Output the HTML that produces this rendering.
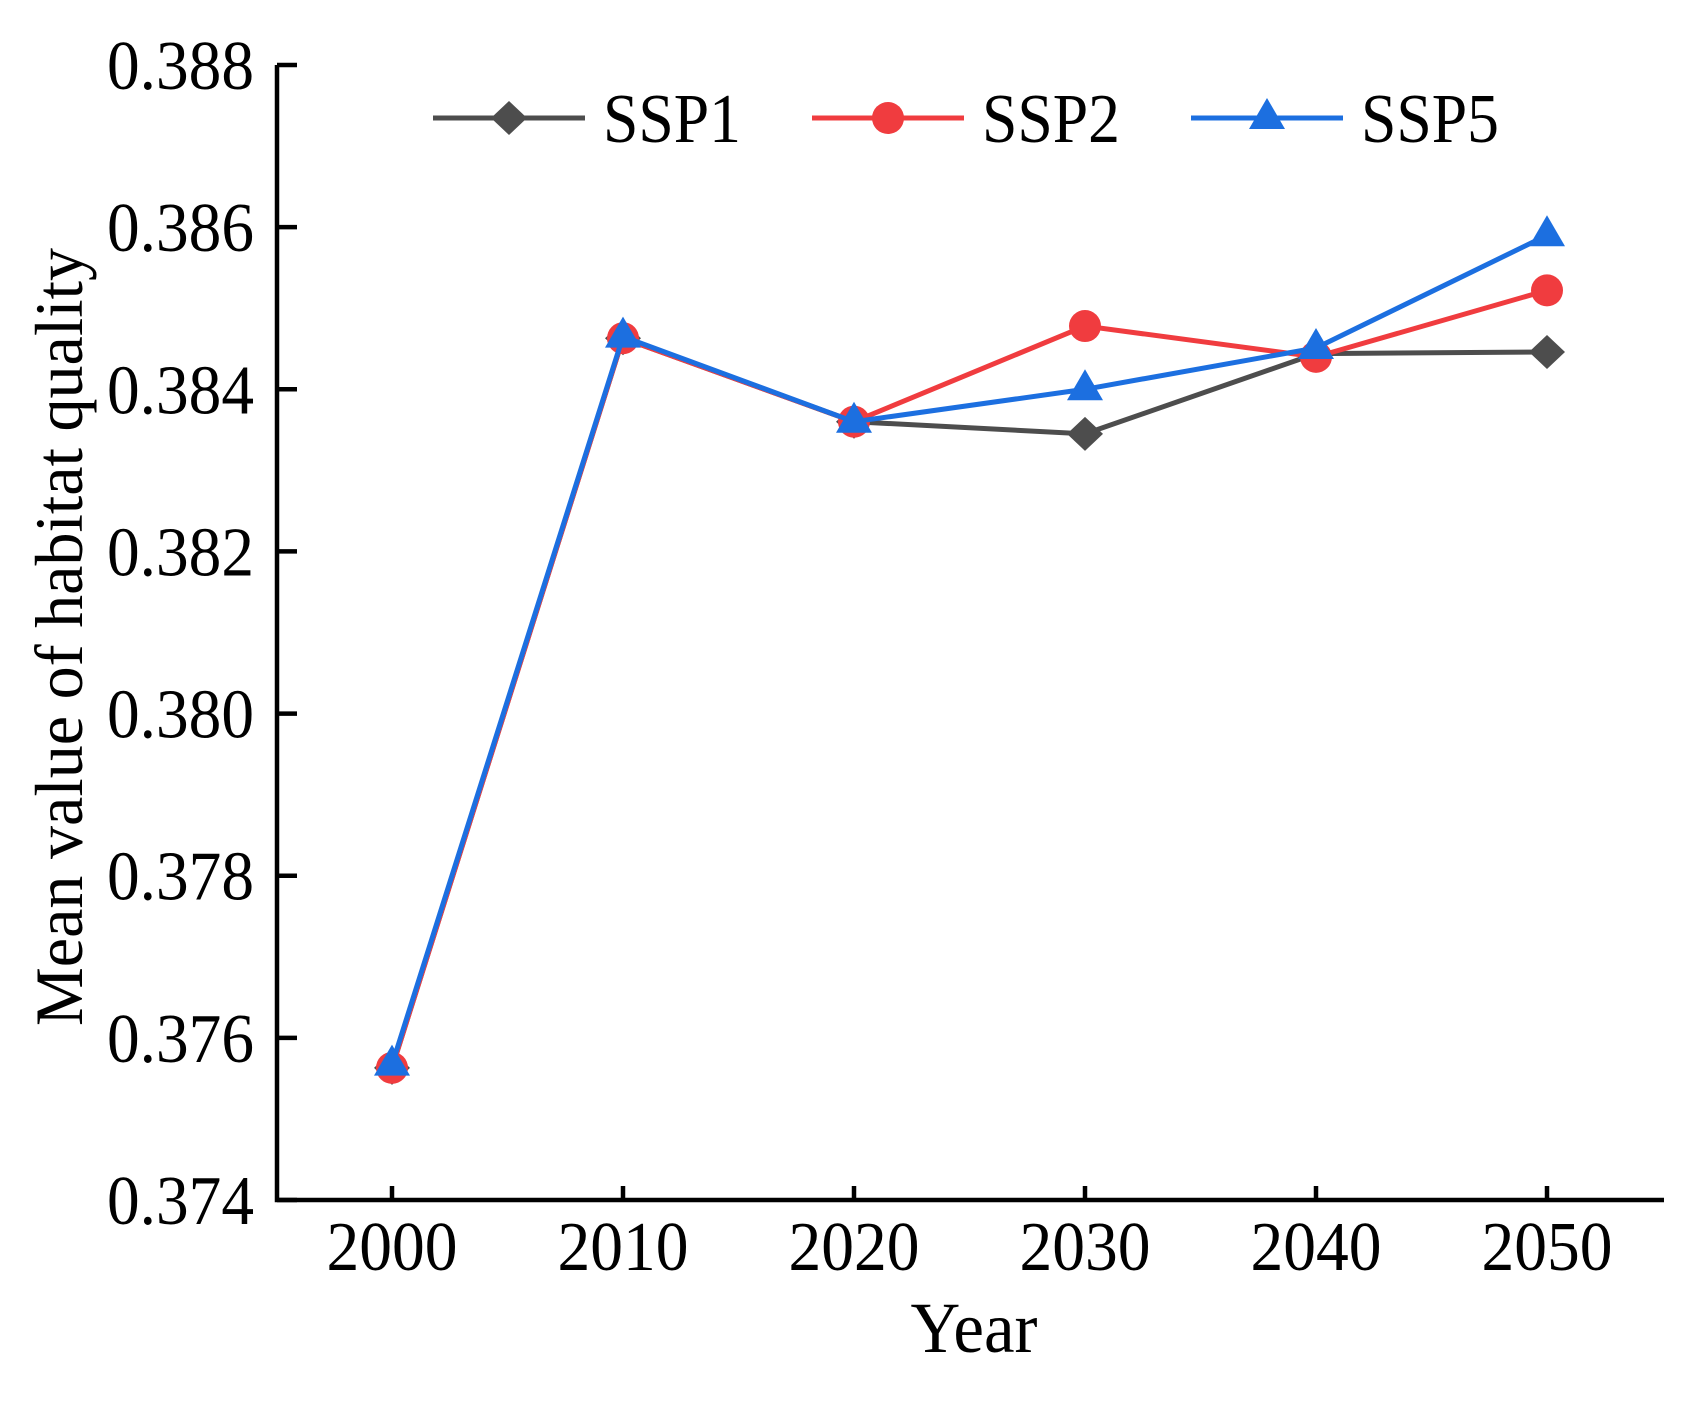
<!DOCTYPE html>
<html><head><meta charset="utf-8"><style>
html,body{margin:0;padding:0;background:#fff;}
svg text{font-family:"Liberation Serif",serif;fill:#000;}
</style></head><body>
<svg id="chart" width="1698" height="1401" viewBox="0 0 1698 1401" xmlns="http://www.w3.org/2000/svg">
<g id="axes"></g>
<g id="series"></g>
<g id="legend"></g>
<text x="974" y="1352" font-size="72" text-anchor="middle" textLength="127" lengthAdjust="spacingAndGlyphs">Year</text>
<text transform="translate(82,637) rotate(-90)" font-size="68" text-anchor="middle" textLength="778" lengthAdjust="spacingAndGlyphs">Mean value of habitat quality</text>
</svg>
<script>
const years = [2000, 2010, 2020, 2030, 2040, 2050];
const yTicks = [0.374, 0.376, 0.378, 0.380, 0.382, 0.384, 0.386, 0.388];
const ssp1 = [0.37563, 0.38463, 0.38360, 0.38345, 0.38444, 0.38446];
const ssp2 = [0.37563, 0.38463, 0.38360, 0.38478, 0.38440, 0.38522];
const ssp5 = [0.37567, 0.38465, 0.38360, 0.38400, 0.38451, 0.38590];
const seriesNames = ["SSP1", "SSP2", "SSP5"];

const NS = "http://www.w3.org/2000/svg";
const X0 = 277, X1 = 1664, Y0 = 1200, Y1 = 65;
function xs(yr){ return 392 + (yr - 2000) / 10 * 231; }
function ys(v){ return Y0 - (v - 0.374) / (0.388 - 0.374) * (Y0 - Y1); }
function mk(tag, attrs, parent){ const e = document.createElementNS(NS, tag); for (const k in attrs) e.setAttribute(k, attrs[k]); parent.appendChild(e); return e; }

const axes = document.getElementById('axes');
let a = mk('path', {d:`M${X0},${Y1} V${Y0} H${X1}`, fill:'none', stroke:'#000', 'stroke-width':4.5}, axes);


yTicks.forEach(v => {
  const y = ys(v);
  const t = mk('line', {x1:X0, x2:X0+20, y1:y, y2:y, stroke:'#000', 'stroke-width':4.5}, axes);
  
  
  const l = mk('text', {x:254, y:y+24, 'font-size':70, 'text-anchor':'end', textLength:147, lengthAdjust:'spacingAndGlyphs'}, axes);
  l.textContent = v.toFixed(3);
  
  
});
years.forEach(yr => {
  const x = xs(yr);
  const t = mk('line', {x1:x, x2:x, y1:Y0, y2:Y0-14, stroke:'#000', 'stroke-width':4.5}, axes);
  
  
  const l = mk('text', {x:x, y:1270, 'font-size':70, 'text-anchor':'middle', textLength:131, lengthAdjust:'spacingAndGlyphs'}, axes);
  l.textContent = yr;
  
  
});

const colors = ['#4d4d4d', '#f03c3f', '#1c6fe0'];
const shapes = ['diamond', 'circle', 'triangle'];
function marker(g, shape, x, y, c){
  let m;
  if (shape === 'diamond') m = mk('path', {d:`M${x},${y-17} L${x+18},${y} L${x},${y+17} L${x-18},${y} Z`, fill:c}, g);
  else if (shape === 'circle') m = mk('circle', {cx:x, cy:y, r:16, fill:c}, g);
  else m = mk('path', {d:`M${x},${y-20} L${x+18},${y+11} L${x-18},${y+11} Z`, fill:c}, g);
  return m;
}
const sg = document.getElementById('series');
[ssp1, ssp2, ssp5].forEach((vals, i) => {
  const g = mk('g', {}, sg);
  
  
  const pl = mk('polyline', {points: vals.map((v, j) => xs(years[j]) + ',' + ys(v)).join(' '), fill:'none', stroke:colors[i], 'stroke-width':5}, g);
  
  
  vals.forEach((v, j) => {
    const m = marker(g, shapes[i], xs(years[j]), ys(v), colors[i]);
    
    
  });
});

const lg = document.getElementById('legend');
const lx = [433, 812, 1191];
seriesNames.forEach((n, i) => {
  const g = mk('g', {}, lg);
  
  
  mk('line', {x1:lx[i], x2:lx[i]+152, y1:118, y2:118, stroke:colors[i], 'stroke-width':5}, g);
  marker(g, shapes[i], lx[i]+76, 118, colors[i]);
  const t = mk('text', {x:lx[i]+170, y:142, 'font-size':70, textLength:138, lengthAdjust:'spacingAndGlyphs'}, g);
  t.textContent = n;
});
</script>
</body></html>
